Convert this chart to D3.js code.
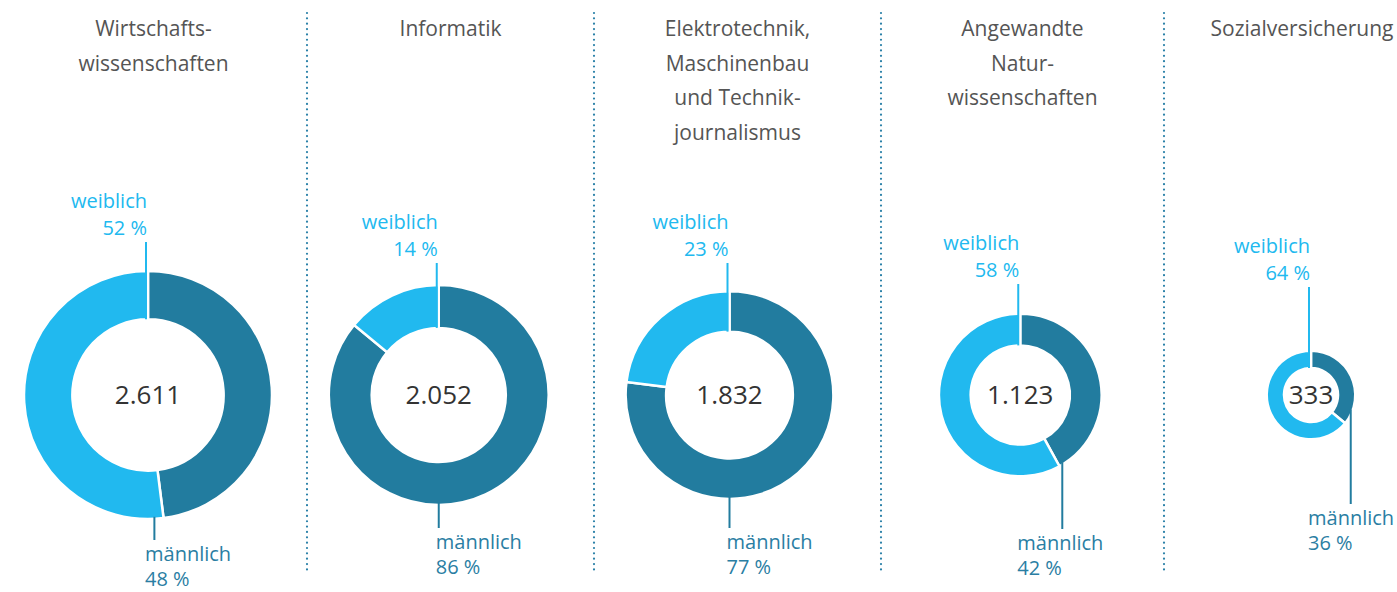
<!DOCTYPE html>
<html lang="de">
<head>
<meta charset="utf-8">
<script src="https://cdn.jsdelivr.net/npm/d3@7/dist/d3.min.js"></script>
<style>
  html, body { margin: 0; padding: 0; background: #fff; }
  svg { display: block; font-family: 'Open Sans', sans-serif; }
</style>
</head>
<body>
<div id="chart"></div>
<script>
// data
const titles = [
  ['Wirtschafts-', 'wissenschaften'],
  ['Informatik'],
  ['Elektrotechnik,', 'Maschinenbau', 'und Technik-', 'journalismus'],
  ['Angewandte', 'Natur-', 'wissenschaften'],
  ['Sozialversicherung']
];
const totals = [2611, 2052, 1832, 1123, 333];
const femaleShare = [52, 14, 23, 58, 64];
const maleShare = [48, 86, 77, 42, 36];

// label layout (annotation placement only)
const femaleLabelY = [208, 229, 229, 250, 253];
const maleLabelY = [561, 549, 549, 550, 525];
const maleAnchorDeg = [177, 180, 180, 148, 110];
const columnBounds = [0, 307, 594, 881, 1164, 1440];

const width = 1397, height = 592, cy = 395;

const colors = {
  female: '#21b9ef',
  male: '#227c9f',
  maleText: '#2a7ea3',
  title: '#555555',
  total: '#333333',
  separator: '#2a80a8'
};

const de = d3.formatLocale({ decimal: ',', thousands: '.', grouping: [3], currency: ['', ' €'] });
const fmt = de.format(',');

const svg = d3.select('#chart').append('svg')
  .attr('width', width)
  .attr('height', height);

const x = d3.scaleLinear().domain([0, totals.length - 1]).range([148, 1311]);
const r = d3.scaleSqrt().domain([0, d3.max(totals)]).range([0, 124]);

const pie = d3.pie().sort(null).value(d => d.value);

// dotted separators
svg.append('g')
  .selectAll('line')
  .data(columnBounds.slice(1, -1))
  .enter()
  .append('line')
  .attr('x1', d => d).attr('x2', d => d)
  .attr('y1', 13).attr('y2', 572)
  .attr('stroke', colors.separator)
  .attr('stroke-width', 2.2)
  .attr('stroke-linecap', 'round')
  .attr('stroke-dasharray', '0 5.35');

totals.forEach((total, i) => {
  const cx = x(i);
  const rOuter = r(total);
  const rInner = rOuter * 0.61;
  const g = svg.append('g').attr('transform', `translate(${cx},${cy})`);

  // title
  const tx = (columnBounds[i] + columnBounds[i + 1]) / 2;
  svg.append('text')
    .attr('x', tx)
    .attr('y', 36)
    .attr('text-anchor', 'middle')
    .attr('fill', colors.title)
    .attr('font-size', '21px')
    .selectAll('tspan')
    .data(titles[i])
    .enter()
    .append('tspan')
    .attr('x', tx)
    .attr('dy', (d, j) => j === 0 ? 0 : 34.5)
    .text(d => d);

  // donut
  const arcs = pie([
    { key: 'm', value: maleShare[i] },
    { key: 'w', value: femaleShare[i] }
  ]);
  const arc = d3.arc().innerRadius(rInner).outerRadius(rOuter);

  g.selectAll('path')
    .data(arcs)
    .enter()
    .append('path')
    .attr('d', arc)
    .attr('fill', d => d.data.key === 'm' ? colors.male : colors.female)
    .attr('stroke', '#fff')
    .attr('stroke-width', 2.5);

  // total in centre
  g.append('text')
    .attr('y', 9)
    .attr('text-anchor', 'middle')
    .attr('fill', colors.total)
    .attr('font-size', '26px')
    .text(fmt(total));

  // weiblich label
  const fy = femaleLabelY[i];
  svg.append('line')
    .attr('x1', cx - 2).attr('x2', cx - 2)
    .attr('y1', fy + 34).attr('y2', cy - rInner)
    .attr('stroke', colors.female)
    .attr('stroke-width', 2);

  const ft = svg.append('text')
    .attr('text-anchor', 'end')
    .attr('fill', colors.female)
    .attr('font-size', '20px');
  ft.append('tspan').attr('x', cx - 1).attr('y', fy).text('weiblich');
  ft.append('tspan').attr('x', cx - 1).attr('y', fy + 27).text(`${femaleShare[i]} %`);

  // männlich label
  const my = maleLabelY[i];
  const a = maleAnchorDeg[i] * Math.PI / 180;
  const ax = cx + (rOuter - 2) * Math.sin(a);
  const ay = cy - (rOuter - 2) * Math.cos(a);
  svg.append('line')
    .attr('x1', ax).attr('x2', ax)
    .attr('y1', ay).attr('y2', my - 21)
    .attr('stroke', colors.male)
    .attr('stroke-width', 2);

  const mt = svg.append('text')
    .attr('text-anchor', 'start')
    .attr('fill', colors.maleText)
    .attr('font-size', '20px');
  mt.append('tspan').attr('x', cx - 3).attr('y', my).text('männlich');
  mt.append('tspan').attr('x', cx - 3).attr('y', my + 25).text(`${maleShare[i]} %`);
});
</script>
</body>
</html>
